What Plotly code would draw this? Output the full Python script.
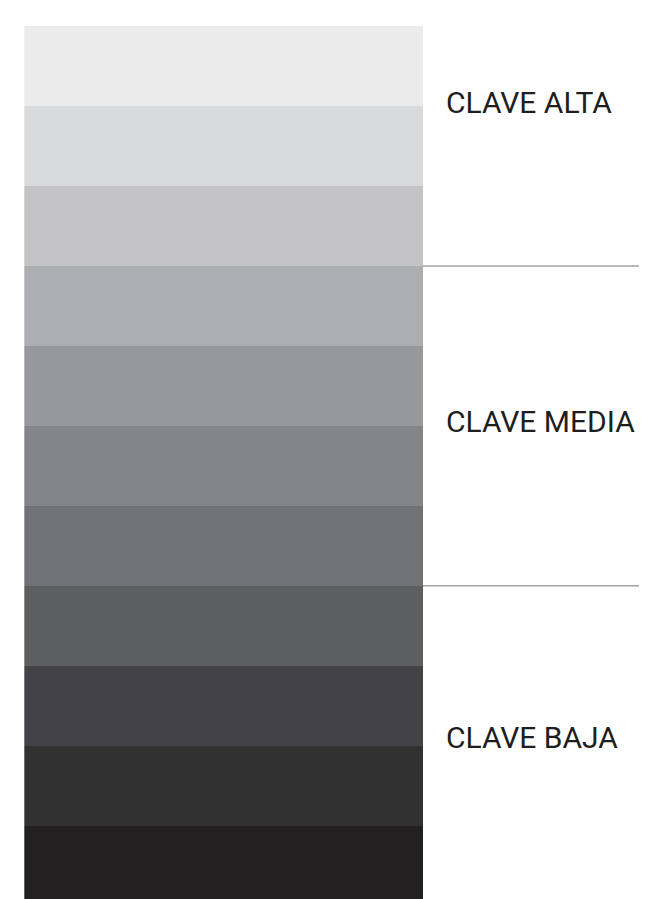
import plotly.graph_objects as go

# Data
steps = list(range(11))
step_colors = ["#ebebeb", "#d9dadc", "#c4c4c6", "#adaeb2", "#97989c", "#848588",
               "#717275", "#5d5e60", "#434246", "#313131", "#222020"]
group_labels = ["CLAVE ALTA", "CLAVE MEDIA", "CLAVE BAJA"]
group_bounds = [3, 7]          # boundaries between groups (in steps)
label_pos = [0.96, 4.95, 8.90]  # label vertical position (in steps)

# page body has an 8px margin, so the figure is drawn 8px smaller and shifted
OFF = 8
W, H = 648 - OFF, 899 - OFF
top = 25.7 - OFF
step_px = 80
n_visible = (H - top) / step_px

fig = go.Figure()
fig.add_trace(go.Bar(
    x=[1] * len(steps),
    y=[s + 0.5 for s in steps],
    orientation="h",
    width=1,
    marker=dict(color=step_colors, line=dict(width=0)),
    hoverinfo="skip",
    showlegend=False,
))

x0 = (24.3 - OFF) / W
x1 = (423.0 - OFF) / W
for b in group_bounds:
    fig.add_shape(type="line", xref="paper", yref="y",
                  x0=x1, x1=(639 - OFF) / W, y0=b, y1=b,
                  line=dict(color="#a3a3a3", width=1.5))

for lab, yp in zip(group_labels, label_pos):
    fig.add_annotation(text=lab, xref="paper", yref="y", x=(444 - OFF) / W, y=yp,
                       xanchor="left", yanchor="middle", showarrow=False,
                       font=dict(family="Roboto", size=30, color="#1e1e1e"))

fig.update_layout(
    width=W, height=H,
    margin=dict(l=0, r=0, t=top, b=0),
    paper_bgcolor="white", plot_bgcolor="white",
    bargap=0,
    xaxis=dict(domain=[x0, x1], range=[0, 1], visible=False, fixedrange=True),
    yaxis=dict(range=[n_visible, 0], visible=False, fixedrange=True),
)

fig.write_html("out.html")
